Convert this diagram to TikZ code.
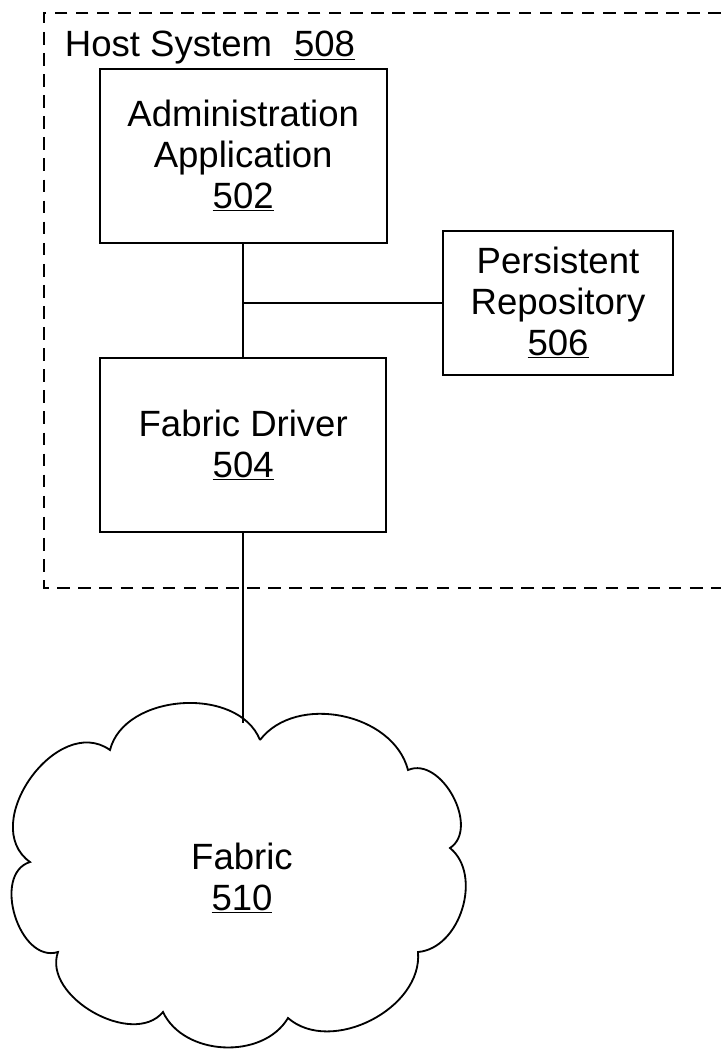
\documentclass[tikz,border=0pt]{standalone}
\usepackage{fontspec}
\setmainfont{Liberation Sans}

\begin{document}
\begin{tikzpicture}[
        every node/.style={font=\fontsize{26pt}{29pt}\selectfont, align=center},
        block/.style={draw, line width=1.3pt, inner sep=0pt},
        wire/.style={line width=1.3pt},
        hostline/.style={line width=1.3pt, dash pattern=on 9pt off 6pt}]
        \useasboundingbox (0,0) rectangle (18.025,-26.275);
        \draw[hostline] (18.025,-0.325) -| (1.1,-14.7) -- (18.025,-14.7);
        \node[anchor=base west] (host) at (1.5,-1.425) {Host System\hspace{0.6em}\underline{508}};
        \node[block, minimum width=7.175cm, minimum height=4.35cm] (admin) at (6.08,-3.9) {Administration\\Application\\\underline{502}};
        \node[block, minimum width=5.75cm, minimum height=3.6cm] (repo) at (13.95,-7.575) {Persistent\\Repository\\\underline{506}};
        \node[block, minimum width=7.15cm, minimum height=4.35cm] (driver) at (6.08,-11.125) {Fabric Driver\\\underline{504}};
        \node (fabric) at (6.05,-21.95) {Fabric\\\underline{510}};
        \draw[wire] (6.5,-18.5) to[bend left=64] (10.2,-19.25) to[bend left=85, looseness=1.05] (11.25,-21.2)
            to[bend left=68] (10.45,-23.8) to[bend left=68] (7.2,-25.45) to[bend left=62] (4.075,-25.3)
            to[bend left=80] (1.45,-23.8) to[bend left=90, looseness=1.1] (0.75,-21.55)
            to[bend left=90, looseness=1.2] (2.75,-18.75) to[bend left=72] (6.5,-18.5);
        \coordinate (fabtop) at (6.08,-18.07);
        \draw[wire] (admin) -- (driver);
        \draw[wire] (repo) -- (repo.west -| admin.south);
        \draw[wire] (driver) -- (fabtop);
    \end{tikzpicture}
\end{document}
